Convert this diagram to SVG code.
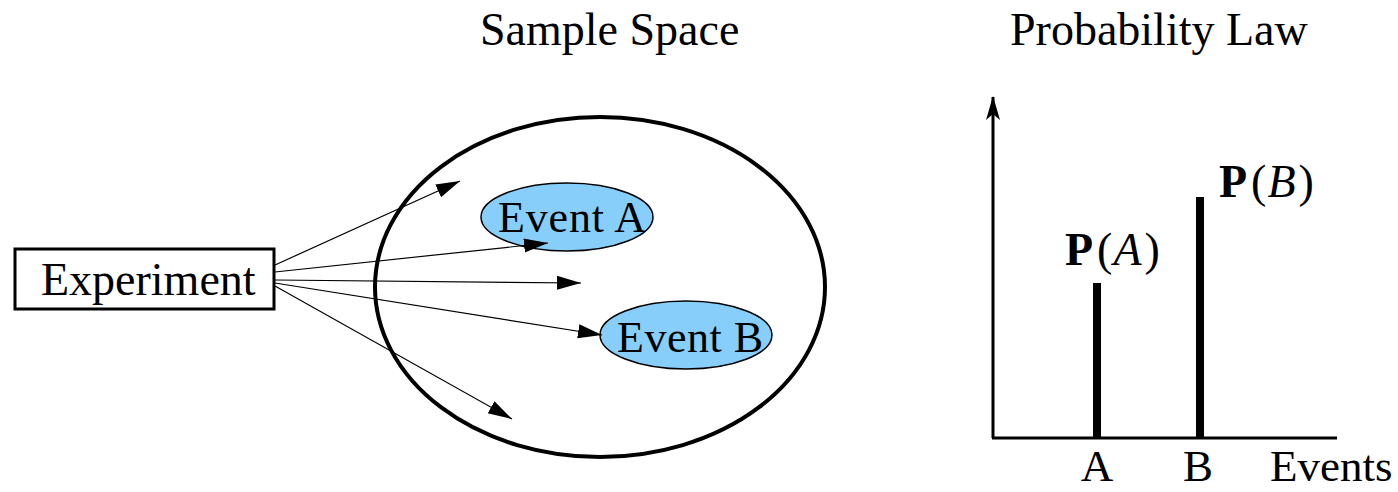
<svg xmlns="http://www.w3.org/2000/svg" width="1398" height="492" viewBox="0 0 1398 492">
  <style>
    text { font-family: "Liberation Serif", "Times New Roman", serif; font-size: 46px; fill: #000; }
    .ev { font-size: 44px; }
    .tick { font-size: 45px; }
    .edge { stroke: #000; stroke-width: 1.2; fill: none; marker-end: url(#head); }
    .axis { stroke: #000; stroke-width: 3; fill: none; }
    .bar { stroke: #000; stroke-width: 8; }
    .event { fill: #87CEFA; stroke: #000; stroke-width: 1.5; }
  </style>
  <defs>
    <marker id="head" markerUnits="userSpaceOnUse" markerWidth="26" markerHeight="16" refX="24" refY="7" orient="auto">
      <path d="M0,0 L24,7 L0,14 Z" fill="#000"/>
    </marker>
    <marker id="axishead" markerUnits="userSpaceOnUse" markerWidth="18" markerHeight="26" refX="8" refY="1" orient="0">
      <path d="M8,0 L15,24 L8,18 L1,24 Z" fill="#000"/>
    </marker>
  </defs>

  <!-- titles -->
  <text x="480" y="45">Sample Space</text>
  <text x="1010" y="45">Probability Law</text>

  <!-- sample space -->
  <g id="sample-space">
    <ellipse cx="600" cy="287" rx="225" ry="170" fill="none" stroke="#000" stroke-width="4"/>
  </g>

  <g id="event-a">
    <ellipse class="event" cx="567" cy="217" rx="86" ry="34"/>
    <text class="ev" x="498" y="232" textLength="148">Event A</text>
  </g>

  <g id="event-b">
    <ellipse class="event" cx="686" cy="335" rx="86" ry="34"/>
    <text class="ev" x="617" y="352" textLength="146">Event B</text>
  </g>

  <g id="experiment">
    <rect x="15" y="249" width="259" height="60" fill="#fff" stroke="#000" stroke-width="3"/>
    <text x="41" y="295">Experiment</text>
  </g>

  <!-- outcomes -->
  <g id="connectors">
    <line class="edge" x1="275" y1="265" x2="460" y2="181"/>
    <line class="edge" x1="275" y1="272" x2="548" y2="243"/>
    <line class="edge" x1="275" y1="280" x2="581" y2="283"/>
    <line class="edge" x1="275" y1="283" x2="602" y2="335"/>
    <line class="edge" x1="275" y1="286" x2="512" y2="419"/>
  </g>

  <!-- probability chart -->
  <g id="chart">
    <line class="axis" x1="993" y1="438" x2="993" y2="97" marker-end="url(#axishead)"/>
    <line class="axis" x1="992" y1="438" x2="1337" y2="438"/>
    <line class="bar" x1="1097" y1="283" x2="1097" y2="438"/>
    <line class="bar" x1="1200" y1="197" x2="1200" y2="438"/>
    <text x="1065" y="265" font-size="48"><tspan font-weight="bold">P</tspan><tspan dx="4">(</tspan><tspan font-style="italic" dx="1">A</tspan><tspan dx="3">)</tspan></text>
    <text x="1219" y="197" font-size="48"><tspan font-weight="bold">P</tspan><tspan dx="4">(</tspan><tspan font-style="italic" dx="1">B</tspan><tspan dx="3">)</tspan></text>
    <text class="tick" x="1097" y="481" text-anchor="middle">A</text>
    <text class="tick" x="1198" y="481" text-anchor="middle">B</text>
    <text class="tick" x="1270" y="481">Events</text>
  </g>
</svg>
